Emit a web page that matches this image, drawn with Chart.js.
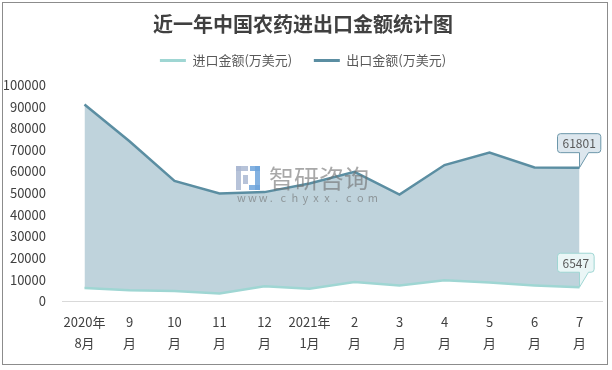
<!DOCTYPE html>
<html><head><meta charset="utf-8">
<script src="https://cdn.jsdelivr.net/npm/chart.js@4/dist/chart.umd.min.js"></script>
<style>
html,body{margin:0;padding:0;background:#fff;}
#wrap{position:relative;width:612px;height:370px;}
#frame{position:absolute;left:2px;top:2px;width:604px;height:361px;border:1px solid #8c8c8c;pointer-events:none;}
</style></head>
<body><div id="wrap"><canvas id="c" width="612" height="370"></canvas><div id="frame"></div></div>
<script>
const monthTop = ["2020年","9","10","11","12","2021年","2","3","4","5","6","7"];
const monthBottom = ["8月","月","月","月","月","1月","月","月","月","月","月","月"];
const importValues = [6200, 5100, 4800, 3700, 7000, 5900, 9000, 7400, 9800, 8700, 7400, 6547];
const exportValues = [91000, 74000, 55700, 49900, 50500, 54500, 59900, 49400, 63000, 68800, 61900, 61801];
const seriesNames = ["进口金额(万美元)", "出口金额(万美元)"];

const FONT = "'Noto Sans CJK SC','Noto Sans',sans-serif";
const labels = monthTop.map((t,i)=>[t, monthBottom[i]]);

const watermark = {
  id:'watermark',
  afterDatasetsDraw(chart){
    const ctx = chart.ctx;
    ctx.save();
    ctx.fillStyle = 'rgba(170,185,210,0.85)';
    ctx.fillRect(236,166,12,5); ctx.fillRect(236,166,5,24); ctx.fillRect(243,175,5,9);
    ctx.fillStyle = 'rgba(110,165,220,0.85)';
    ctx.fillRect(250,166,10,5); ctx.fillRect(255,166,5,24); ctx.fillRect(249,185,11,5);
    ctx.fillStyle = 'rgba(110,110,110,0.6)';
    ctx.font = "25px " + FONT;
    ctx.textBaseline = 'middle';
    ctx.textAlign = 'left';
    ctx.fillText("智研咨询", 269, 178);
    ctx.font = "11px " + FONT;
    const s = "www.chyxx.com";
    let x = 237;
    for (const ch of s){ ctx.fillText(ch, x, 198); x += 10.9; }
    ctx.restore();
  }
};

const callouts = {
  id:'callouts',
  afterDraw(chart){
    const ctx = chart.ctx;
    const styles = [
      {fill:'#eaf6f6', stroke:'#9fd6d3'},
      {fill:'#dde7ee', stroke:'#6c97aa'}
    ];
    chart.data.datasets.forEach((ds, di)=>{
      const meta = chart.getDatasetMeta(di);
      const last = meta.data.length-1;
      const pt = meta.data[last];
      const text = String(ds.data[last]);
      ctx.save();
      ctx.font = "12px " + FONT;
      const tw = ctx.measureText(text).width;
      const w = tw + 10, h = 19;
      const bx = pt.x - 22, by = pt.y - 15 - h;
      const r = 3;
      ctx.beginPath();
      ctx.moveTo(bx+r, by);
      ctx.lineTo(bx+w-r, by); ctx.quadraticCurveTo(bx+w, by, bx+w, by+r);
      ctx.lineTo(bx+w, by+h-r); ctx.quadraticCurveTo(bx+w, by+h, bx+w-r, by+h);
      ctx.lineTo(pt.x+9, by+h);
      ctx.lineTo(pt.x, pt.y);
      ctx.lineTo(pt.x, by+h);
      ctx.lineTo(bx+r, by+h); ctx.quadraticCurveTo(bx, by+h, bx, by+h-r);
      ctx.lineTo(bx, by+r); ctx.quadraticCurveTo(bx, by, bx+r, by);
      ctx.closePath();
      ctx.fillStyle = styles[di].fill;
      ctx.strokeStyle = styles[di].stroke;
      ctx.lineWidth = 1;
      ctx.fill(); ctx.stroke();
      ctx.fillStyle = '#595959';
      ctx.textAlign = 'center'; ctx.textBaseline = 'middle';
      ctx.fillText(text, bx + w/2, by + h/2 + 0.5);
      ctx.restore();
    });
  }
};

new Chart(document.getElementById('c'), {
  type:'line',
  data:{
    labels: labels,
    datasets:[
      {label: seriesNames[0], data: importValues, borderColor:'#9fd6d3', backgroundColor:'#9fd6d3',
       borderWidth:2.5, pointRadius:0, fill:false, tension:0},
      {label: seriesNames[1], data: exportValues, borderColor:'#5b8ea2', backgroundColor:'#5b8ea2',
       borderWidth:2.5, pointRadius:0, fill:{target:0, above:'#bfd3dc', below:'#bfd3dc'}, tension:0}
    ]
  },
  options:{
    responsive:false, animation:false,
    layout:{padding:{left:4, right:10, top:0, bottom:7}},
    plugins:{
      title:{display:true, text:'近一年中国农药进出口金额统计图', color:'#404040',
        font:{family:FONT, size:20, weight:'bold'}, padding:{top:12, bottom:8}},
      subtitle:{display:true, text:' ', weight:500, font:{size:1, lineHeight:1}, padding:{top:0, bottom:7}},
      legend:{display:true, position:'top',
        labels:{color:'#595959', font:{family:FONT, size:13}, boxWidth:26, boxHeight:3, padding:10,
          generateLabels(chart){
            return chart.data.datasets.map((d,i)=>({text:d.label + (i===0 ? '    ' : ''), fillStyle:d.borderColor, strokeStyle:d.borderColor, lineWidth:0, datasetIndex:i, fontColor:'#595959'}));
          }}},
      tooltip:{enabled:false}
    },
    scales:{
      x:{offset:true, grid:{display:false, drawTicks:false}, border:{display:true, color:'#d9d9d9'},
         ticks:{color:'#404040', font:{family:FONT, size:13, lineHeight:1.6}, maxRotation:0, autoSkip:false, padding:10}},
      y:{min:0, max:100000, grid:{display:false}, border:{display:false},
         ticks:{stepSize:10000, color:'#404040', font:{family:FONT, size:13}, padding:8,
           callback:(v)=>String(v)},
         afterFit(s){ s.width = 58; }}
    }
  },
  plugins:[watermark, callouts]
});
</script></body></html>
